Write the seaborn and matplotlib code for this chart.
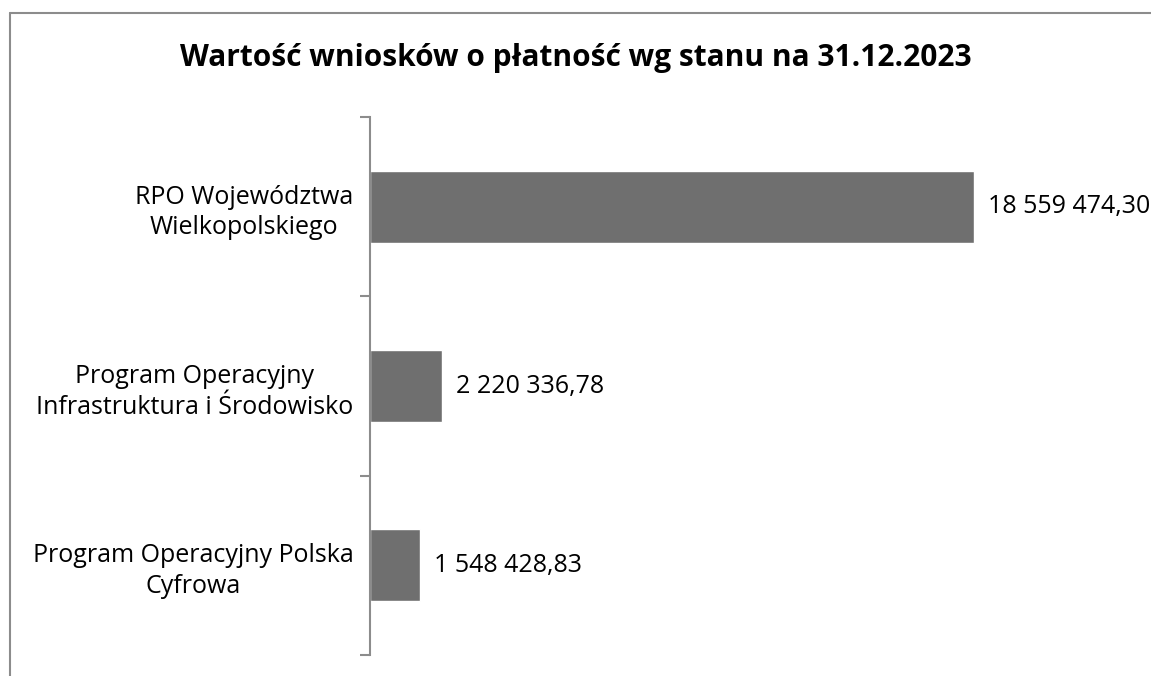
import matplotlib
matplotlib.use("Agg")
import matplotlib.pyplot as plt
import seaborn as sns
import pandas as pd
from matplotlib.lines import Line2D

categories = [
    "RPO Województwa\nWielkopolskiego",
    "Program Operacyjny\nInfrastruktura i Środowisko",
    "Program Operacyjny Polska\nCyfrowa",
]
values = [18559474.30, 2220336.78, 1548428.83]
value_labels = ["18 559 474,30", "2 220 336,78", "1 548 428,83"]
title = "Wartość wniosków o płatność wg stanu na 31.12.2023"

df = pd.DataFrame({"program": categories, "value": values})

sns.set_style("white")
plt.rcParams["font.family"] = ["Open Sans", "DejaVu Sans"]

fig = plt.figure(figsize=(11.51, 6.76), dpi=100)
W, H = 1151, 676
ax = fig.add_axes([370 / W, 1 - 655 / H, (W - 370) / W, (655 - 117) / H])

sns.barplot(data=df, x="value", y="program", color="#6f6f6f", width=0.4,
            saturation=1, ax=ax, orient="h")

# px scale: 18.56M -> 604 px
ax.set_xlim(0, values[0] / 604 * (W - 370))
ax.set_ylim(2.5, -0.5)

for i, (v, lab) in enumerate(zip(values, value_labels)):
    ax.annotate(lab, (v, i), xytext=(10, 0), textcoords="offset points",
                va="center", ha="left", fontsize=18, color="#000000",
                annotation_clip=False, clip_on=False)

for s in ["top", "right", "bottom"]:
    ax.spines[s].set_visible(False)
ax.spines["left"].set_color("#8c8c8c")
ax.spines["left"].set_linewidth(1.5)

ax.set_xticks([])
ax.set_yticks(range(len(categories)))
ax.set_yticklabels(categories, fontsize=18, multialignment="center",
                   linespacing=1.3, color="#000000")
ax.tick_params(axis="y", which="major", left=False, length=0, pad=12)
ax.set_yticks([-0.5, 0.5, 1.5, 2.5], minor=True)
ax.tick_params(axis="y", which="minor", left=True, length=7, width=1.5,
               color="#8c8c8c")
ax.set_xlabel("")
ax.set_ylabel("")

fig.text(0.5, 1 - 58 / H, title, ha="center", va="center",
         fontsize=21.5, fontweight="bold", color="#000000")

# chart border (top and left visible)
fig.add_artist(Line2D([10 / W, 1], [1 - 13 / H, 1 - 13 / H], color="#8c8c8c", lw=1.5))
fig.add_artist(Line2D([10 / W, 10 / W], [1 - 13 / H, 0], color="#8c8c8c", lw=1.5))

fig.savefig("out.png", dpi=100)
